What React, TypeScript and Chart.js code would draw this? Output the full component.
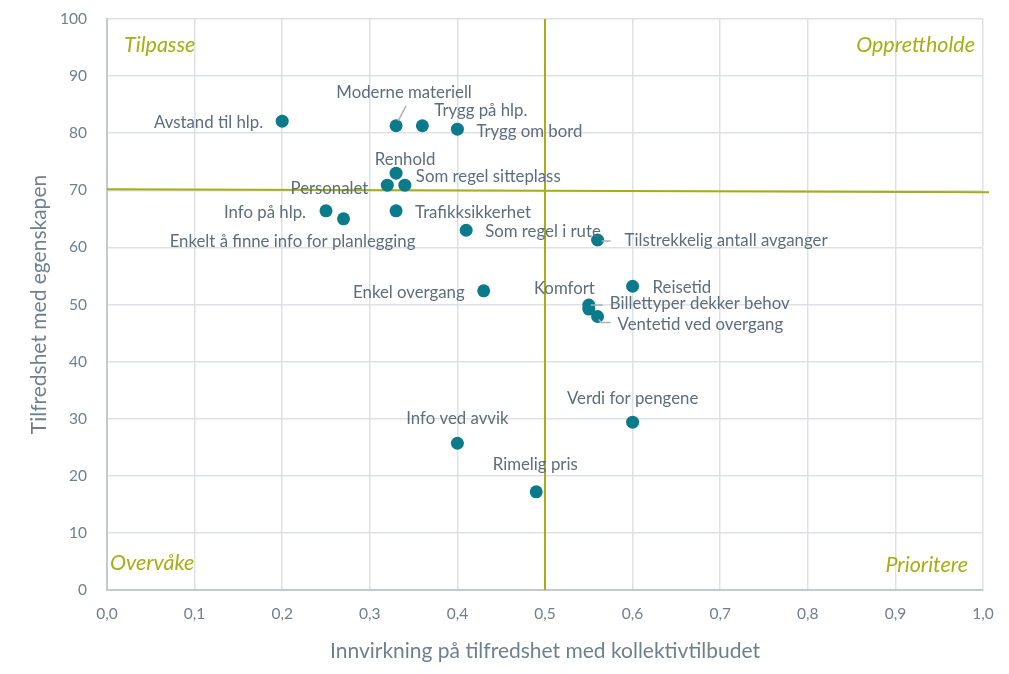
import { useEffect, useRef } from 'react';
import { Chart, registerables } from 'chart.js';

Chart.register(...registerables);

// ---- Data ----
const attributes = [
  'Avstand til hlp.',
  'Moderne materiell',
  'Trygg på hlp.',
  'Trygg om bord',
  'Renhold',
  'Personalet',
  'Som regel sitteplass',
  'Info på hlp.',
  'Enkelt å finne info for planlegging',
  'Trafikksikkerhet',
  'Som regel i rute',
  'Tilstrekkelig antall avganger',
  'Reisetid',
  'Enkel overgang',
  'Komfort',
  'Billettyper dekker behov',
  'Ventetid ved overgang',
  'Verdi for pengene',
  'Info ved avvik',
  'Rimelig pris',
];
const impact = [0.2, 0.33, 0.36, 0.4, 0.33, 0.32, 0.34, 0.25, 0.27, 0.33, 0.41, 0.56, 0.6, 0.43, 0.55, 0.55, 0.56, 0.6, 0.4, 0.49];
const satisfaction = [82.1, 81.3, 81.3, 80.7, 73.0, 70.9, 70.9, 66.4, 65.0, 66.4, 63.0, 61.3, 53.2, 52.4, 49.9, 49.2, 47.9, 29.4, 25.7, 17.2];

const X_THRESHOLD = 0.5;
const Y_THRESHOLD = 70;
const quadrantNames = ['Tilpasse', 'Opprettholde', 'Overvåke', 'Prioritere'];
const xAxisTitle = 'Innvirkning på tilfredshet med kollektivtilbudet';
const yAxisTitle = 'Tilfredshet med egenskapen';

// ---- Label placement (styling only) ----
type Place = { align: CanvasTextAlign; dx: number; dy: number; leader?: number[] };
const placements: Place[] = [
  { align: 'right', dx: -19, dy: 1 },
  { align: 'center', dx: 8, dy: -33, leader: [10, -20, 2, -5] },
  { align: 'left', dx: 12, dy: -15 },
  { align: 'left', dx: 19, dy: 2 },
  { align: 'center', dx: 9, dy: -14 },
  { align: 'right', dx: -19, dy: 3 },
  { align: 'left', dx: 11, dy: -9 },
  { align: 'right', dx: -20, dy: 2 },
  { align: 'center', dx: -51, dy: 23 },
  { align: 'left', dx: 19, dy: 2 },
  { align: 'left', dx: 19, dy: 1 },
  { align: 'left', dx: 27, dy: 1, leader: [4, 1, 13, 1] },
  { align: 'left', dx: 20, dy: 1 },
  { align: 'right', dx: -19, dy: 2 },
  { align: 'right', dx: 6, dy: -16 },
  { align: 'left', dx: 21, dy: -5, leader: [2, -4, 14, -4] },
  { align: 'left', dx: 20, dy: 8, leader: [1, 3, 4, 6, 13, 6] },
  { align: 'center', dx: 0, dy: -24 },
  { align: 'center', dx: 0, dy: -25 },
  { align: 'center', dx: -1, dy: -27 },
];

const FONT = 'Lato, "Open Sans", sans-serif';
const TEXT_COLOR = '#5d6d7c';
const TICK_COLOR = '#6f7f8d';
const OLIVE = '#a3b014';
const POINT_COLOR = '#0b7b8b';
const GRID = '#dde1e6';

const overlayPlugin = {
  id: 'quadrantOverlay',
  beforeDatasetsDraw(chart: any) {
    const { ctx, chartArea, scales } = chart;
    const x = scales.x, y = scales.y;
    ctx.save();
    ctx.strokeStyle = OLIVE;
    ctx.lineWidth = 2;
    const vx = x.getPixelForValue(X_THRESHOLD);
    ctx.beginPath();
    ctx.moveTo(vx, chartArea.top);
    ctx.lineTo(vx, chartArea.bottom);
    ctx.stroke();
    const hy = y.getPixelForValue(Y_THRESHOLD);
    ctx.beginPath();
    ctx.moveTo(chartArea.left, hy - 1);
    ctx.lineTo(chartArea.right + 6, hy + 2);
    ctx.stroke();

    ctx.fillStyle = OLIVE;
    ctx.font = `italic 21.5px ${FONT}`;
    ctx.textBaseline = 'middle';
    ctx.textAlign = 'left';
    ctx.fillText(quadrantNames[0], chartArea.left + 17, chartArea.top + 26);
    ctx.textAlign = 'right';
    ctx.fillText(quadrantNames[1], chartArea.right - 8, chartArea.top + 26);
    ctx.textAlign = 'left';
    ctx.fillText(quadrantNames[2], chartArea.left + 3, chartArea.bottom - 27);
    ctx.textAlign = 'right';
    ctx.fillText(quadrantNames[3], chartArea.right - 15, chartArea.bottom - 25);
    ctx.restore();
  },
  afterDatasetsDraw(chart: any) {
    const { ctx } = chart;
    const meta = chart.getDatasetMeta(0);
    ctx.save();
    ctx.font = `16.8px ${FONT}`;
    ctx.fillStyle = TEXT_COLOR;
    ctx.textBaseline = 'middle';
    meta.data.forEach((pt: any, i: number) => {
      const p = placements[i];
      if (p.leader) {
        ctx.strokeStyle = '#a9b1b9';
        ctx.lineWidth = 1.5;
        ctx.beginPath();
        for (let k = 0; k < p.leader.length; k += 2) {
          const lx = pt.x + p.leader[k];
          const ly = pt.y + p.leader[k + 1];
          if (k === 0) ctx.moveTo(lx, ly);
          else ctx.lineTo(lx, ly);
        }
        ctx.stroke();
      }
      ctx.textAlign = p.align;
      ctx.fillText(attributes[i], pt.x + p.dx, pt.y + p.dy);
    });
    ctx.restore();
  },
};

export default function App() {
  const ref = useRef<HTMLCanvasElement>(null);
  useEffect(() => {
    document.body.style.margin = '0';
    const chart = new Chart(ref.current!, {
      type: 'scatter',
      data: {
        datasets: [
          {
            data: impact.map((v, i) => ({ x: v, y: satisfaction[i] })),
            backgroundColor: POINT_COLOR,
            borderWidth: 0,
            pointRadius: 6.5,
          },
        ],
      },
      options: {
        animation: false,
        responsive: false,
        maintainAspectRatio: false,
        layout: { padding: { left: 0, right: 26, top: 19, bottom: 0 } },
        plugins: { legend: { display: false }, tooltip: { enabled: false } },
        scales: {
          x: {
            type: 'linear',
            min: 0,
            max: 1,
            afterFit: (s: any) => { s.height = 84; },
            ticks: {
              stepSize: 0.1,
              padding: 15,
              color: TICK_COLOR,
              font: { family: FONT, size: 15.5 },
              callback: (v: any) => Number(v).toFixed(1).replace('.', ','),
            },
            grid: { color: GRID, lineWidth: 1.5, drawTicks: false },
            border: { color: '#c3c9cf', width: 2 },
            title: {
              display: true,
              text: xAxisTitle,
              color: TICK_COLOR,
              font: { family: FONT, size: 21 },
              padding: { top: 0, bottom: 10 },
            },
          },
          y: {
            type: 'linear',
            min: 0,
            max: 100,
            afterFit: (s: any) => {
              s.width = 107;
              s.paddingTop = 0;
              s.paddingBottom = 0;
            },
            ticks: {
              stepSize: 10,
              padding: 20,
              color: TICK_COLOR,
              font: { family: FONT, size: 15.5 },
            },
            grid: { color: GRID, lineWidth: 1.5, drawTicks: false },
            border: { color: '#c3c9cf', width: 2 },
            title: {
              display: true,
              text: yAxisTitle,
              color: TICK_COLOR,
              font: { family: FONT, size: 21 },
              padding: { top: 27, bottom: 0 },
            },
          },
        },
      },
      plugins: [overlayPlugin],
    });
    return () => chart.destroy();
  }, []);
  return <canvas ref={ref} width={1009} height={674} style={{ display: 'block' }} />;
}
